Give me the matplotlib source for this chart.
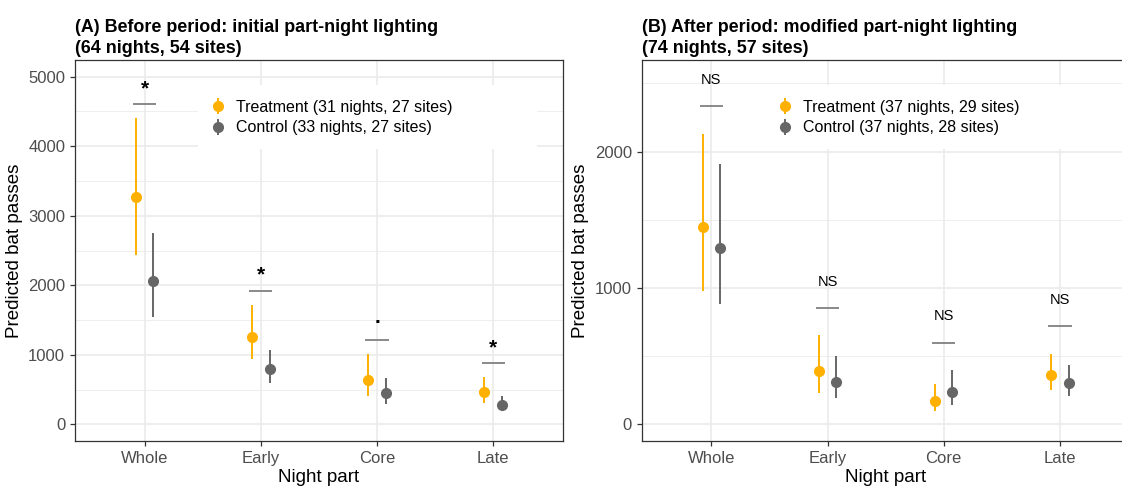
import numpy as np
import matplotlib
matplotlib.use('Agg')
import matplotlib.pyplot as plt
from matplotlib.ticker import MultipleLocator

plt.rcParams['font.family'] = ['Liberation Sans', 'DejaVu Sans']

# ---Datos---
parts = ['Whole', 'Early', 'Core', 'Late']

# (A) periodo antes
a_treat = [3270, 1262, 633, 465]
a_treat_lo = [2436, 935, 403, 307]
a_treat_hi = [4407, 1712, 1007, 681]
a_ctrl = [2067, 796, 446, 278]
a_ctrl_lo = [1550, 594, 297, 191]
a_ctrl_hi = [2748, 1075, 662, 403]
a_sig_y = [4604, 1918, 1213, 882]
a_sig_lab = ['*', '*', '.', '*']
a_lab_y = [4830, 2150, 1540, 1105]

# (B) periodo despues
b_treat = [1444, 389, 174, 362]
b_treat_lo = [979, 233, 100, 252]
b_treat_hi = [2129, 653, 294, 519]
b_ctrl = [1297, 308, 237, 301]
b_ctrl_lo = [886, 191, 142, 210]
b_ctrl_hi = [1909, 502, 396, 435]
b_sig_y = [2335, 854, 597, 720]
b_sig_lab = ['NS', 'NS', 'NS', 'NS']
b_lab_y = [2526, 1045, 793, 910]

titles = ['(A) Before period: initial part-night lighting\n(64 nights, 54 sites)',
          '(B) After period: modified part-night lighting\n(74 nights, 57 sites)']
a_legend = ['Treatment (31 nights, 27 sites)', 'Control (33 nights, 27 sites)']
b_legend = ['Treatment (37 nights, 29 sites)', 'Control (37 nights, 28 sites)']

c_treat = '#FFB000'
c_ctrl = '#666666'


def panel(ax, treat, tlo, thi, ctrl, clo, chi, sig_y, sig_lab, lab_y, leg, title,
          ylim, ymajor, star):
	x = np.arange(len(parts))
	dx = 0.075
	t = np.array(treat); c = np.array(ctrl)
	h1 = ax.errorbar(x - dx, t, yerr=[t - np.array(tlo), np.array(thi) - t], fmt='o',
	                 color=c_treat, ms=7, elinewidth=1.4, capsize=0, label=leg[0], zorder=3)
	h2 = ax.errorbar(x + dx, c, yerr=[c - np.array(clo), np.array(chi) - c], fmt='o',
	                 color=c_ctrl, ms=7, elinewidth=1.4, capsize=0, label=leg[1], zorder=3)

	# Lineas y etiquetas de significancia
	ax.hlines(sig_y, x - 0.1, x + 0.1, color='#808080', lw=1.3, zorder=3)
	for xi, yl, lab in zip(x, lab_y, sig_lab):
		if star:
			ax.text(xi, yl, lab, ha='center', va='center', fontsize=15, fontweight='bold')
		else:
			ax.text(xi, yl, lab, ha='center', va='center', fontsize=10.5)

	ax.set_xlim(-0.6, len(parts) - 0.4)
	ax.set_ylim(*ylim)
	ax.set_xticks(x)
	ax.set_xticklabels(parts)
	ax.yaxis.set_major_locator(MultipleLocator(ymajor))
	ax.yaxis.set_minor_locator(MultipleLocator(ymajor / 2))
	ax.tick_params(axis='y', which='minor', length=0)
	ax.tick_params(which='major', length=3.5, width=0.9, color='#333333',
	               labelcolor='#4D4D4D', labelsize=12)
	ax.grid(which='major', color='#EBEBEB', lw=1.2)
	ax.grid(which='minor', axis='y', color='#EBEBEB', lw=0.6)
	ax.set_axisbelow(True)
	for s in ax.spines.values():
		s.set_color('#333333')
		s.set_linewidth(0.9)

	ax.set_xlabel('Night part', fontsize=13.5, labelpad=2)
	ax.set_ylabel('Predicted bat passes', fontsize=13.5, labelpad=4)
	ax.set_title(title, loc='left', fontweight='bold', fontsize=12.9, pad=5,
	             linespacing=1.3)

	ax.legend(handles=[h1, h2], loc='upper left', mode='expand',
	          bbox_to_anchor=(0.252, 0.769, 0.695, 0.165),
	          frameon=True, facecolor='white', edgecolor='none', framealpha=1,
	          fancybox=False, handlelength=0.7, handletextpad=0.8,
	          fontsize=11.5, labelspacing=0.35, borderpad=0.9, borderaxespad=0)


fig = plt.figure(figsize=(11.22, 4.88), dpi=100)
ax1 = fig.add_axes([0.0668, 0.0953, 0.4349, 0.7818])
ax2 = fig.add_axes([0.5719, 0.0953, 0.4349, 0.7818])

panel(ax1, a_treat, a_treat_lo, a_treat_hi, a_ctrl, a_ctrl_lo, a_ctrl_hi,
      a_sig_y, a_sig_lab, a_lab_y, a_legend, titles[0], (-245, 5240), 1000, True)
panel(ax2, b_treat, b_treat_lo, b_treat_hi, b_ctrl, b_ctrl_lo, b_ctrl_hi,
      b_sig_y, b_sig_lab, b_lab_y, b_legend, titles[1], (-125, 2672), 1000, False)

fig.savefig('out.png', dpi=100)
